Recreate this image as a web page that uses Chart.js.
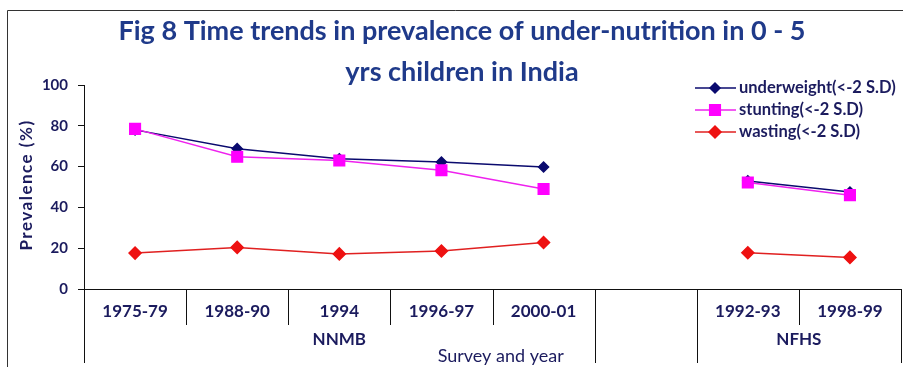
<!DOCTYPE html>
<html>
<head>
<meta charset="utf-8">
<script src="https://cdn.jsdelivr.net/npm/chart.js@4.4.1/dist/chart.umd.min.js"></script>
<style>
  html, body { margin: 0; padding: 0; background: #fff; }
  #wrap { width: 903px; height: 367px; position: relative; }
</style>
</head>
<body>
<div id="wrap"><canvas id="trendChart"></canvas></div>
<script>
// categories (the empty one is the gap between the two surveys)
const years = ["1975-79", "1988-90", "1994", "1996-97", "2000-01", "", "1992-93", "1998-99"];
const surveyNames = ["NNMB", "", "NFHS"];
const surveySpans = [5, 1, 2];

// prevalence (%)
const underweight = [78, 68.8, 63.8, 62.2, 59.8, null, 53, 47.5];
const stunting = [78.5, 64.8, 63, 58.2, 49, null, 52.2, 46];
const wasting = [17.6, 20.4, 17.2, 18.6, 22.8, null, 17.8, 15.5];

const titleLines = ["Fig 8 Time trends in prevalence of under-nutrition in 0 - 5", "yrs children in India"];
const yTicks = [0, 20, 40, 60, 80, 100];

const navy = "#1b1b5e";
const fontFam = "Lato, 'Open Sans', sans-serif";

const decor = {
  id: "decor",
  afterDraw(chart) {
    const ctx = chart.ctx;
    const xs = chart.scales.x;
    const area = chart.chartArea;
    ctx.save();

    // outer frame
    ctx.strokeStyle = "#333";
    ctx.lineWidth = 1;
    ctx.beginPath();
    ctx.moveTo(7.5, chart.height);
    ctx.lineTo(7.5, 10.5);
    ctx.lineTo(chart.width, 10.5);
    ctx.stroke();

    // title
    ctx.fillStyle = "#1f3a8a";
    ctx.font = "bold 27px " + fontFam;
    ctx.textAlign = "center";
    ctx.textBaseline = "middle";
    ctx.fillText(titleLines[0], 462, 31);
    ctx.fillText(titleLines[1], 462, 72);

    // y axis title, letter spaced like the original
    ctx.save();
    ctx.translate(27, (area.top + area.bottom) / 2 - 2);
    ctx.rotate(-Math.PI / 2);
    ctx.fillStyle = navy;
    ctx.font = "bold 17px " + fontFam;
    ctx.letterSpacing = "1.5px";
    ctx.fillText("Prevalence (%)", 0, 0);
    ctx.restore();

    // category separators below the axis
    const n = years.length;
    const edge = i => i === 0 ? xs.left : i === n ? xs.right :
      (xs.getPixelForTick(i - 1) + xs.getPixelForTick(i)) / 2;
    const longEdges = [0];
    let acc = 0;
    surveySpans.forEach(s => { acc += s; longEdges.push(acc); });
    ctx.strokeStyle = "#111";
    ctx.lineWidth = 1;
    for (let i = 0; i <= n; i++) {
      const x = Math.min(Math.round(edge(i)) + 0.5, chart.width - 1.5);
      ctx.beginPath();
      ctx.moveTo(x, area.bottom);
      ctx.lineTo(x, longEdges.includes(i) ? area.bottom + 74 : area.bottom + 36);
      ctx.stroke();
    }

    // survey group labels
    ctx.fillStyle = navy;
    ctx.font = "bold 17px " + fontFam;
    let start = 0;
    surveyNames.forEach((name, k) => {
      const end = start + surveySpans[k];
      if (name) ctx.fillText(name, (edge(start) + edge(end)) / 2, area.bottom + 51);
      start = end;
    });

    // x axis title
    ctx.font = "18px " + fontFam;
    ctx.fillText("Survey and year", xs.left + (xs.right - xs.left) * 0.51, area.bottom + 67);

    // legend
    ctx.textAlign = "left";
    ctx.font = "bold 16.5px " + fontFam;
    chart.data.datasets.forEach((ds, k) => {
      const y = 88 + k * 22;
      ctx.strokeStyle = ds.borderColor;
      ctx.lineWidth = 1.5;
      ctx.beginPath();
      ctx.moveTo(695, y);
      ctx.lineTo(736, y);
      ctx.stroke();
      ctx.fillStyle = ds.pointBackgroundColor;
      ctx.strokeStyle = ds.pointBorderColor;
      Chart.helpers.drawPoint(ctx, {
        pointStyle: ds.pointStyle, radius: ds.pointRadius, borderWidth: 1
      }, 715, y);
      ctx.fill();
      ctx.fillStyle = navy;
      ctx.fillText(ds.label, 739, y);
    });
    ctx.restore();
  }
};

new Chart(document.getElementById("trendChart"), {
  type: "line",
  data: {
    labels: years,
    datasets: [
      {
        label: "underweight(<-2 S.D)",
        data: underweight,
        borderColor: "#0a0a6e",
        backgroundColor: "#0a0a6e",
        pointBackgroundColor: "#0a0a6e",
        pointBorderColor: "#0a0a6e",
        pointStyle: "rectRot",
        pointRadius: 5,
        borderWidth: 1.5,
        order: 1
      },
      {
        label: "stunting(<-2 S.D)",
        data: stunting,
        borderColor: "#ee22ee",
        backgroundColor: "#ff00ff",
        pointBackgroundColor: "#ff00ff",
        pointBorderColor: "#ff00ff",
        pointStyle: "rect",
        pointRadius: 7.5,
        borderWidth: 1.5,
        order: 0
      },
      {
        label: "wasting(<-2 S.D)",
        data: wasting,
        borderColor: "#e02020",
        backgroundColor: "#ee1111",
        pointBackgroundColor: "#ee1111",
        pointBorderColor: "#ee1111",
        pointStyle: "rectRot",
        pointRadius: 6,
        borderWidth: 1.5,
        order: 2
      }
    ]
  },
  options: {
    responsive: true,
    maintainAspectRatio: false,
    animation: false,
    spanGaps: false,
    layout: { autoPadding: false, padding: { top: 85, right: 2, left: 0, bottom: 0 } },
    plugins: {
      legend: { display: false },
      title: { display: false },
      tooltip: { enabled: false }
    },
    scales: {
      x: {
        type: "category",
        offset: true,
        grid: { display: false },
        border: { display: true, color: "#111", width: 1 },
        ticks: {
          color: navy,
          padding: 4,
          autoSkip: false,
          maxRotation: 0,
          font: { family: fontFam, size: 17, weight: "bold" }
        },
        afterFit(scale) {
          scale.height = 78;
          scale.paddingLeft = 0;
          scale.paddingRight = 0;
        }
      },
      y: {
        min: 0,
        max: 100,
        afterBuildTicks(scale) { scale.ticks = yTicks.map(v => ({ value: v })); },
        grid: { drawOnChartArea: false, tickLength: 6, color: "#111" },
        border: { display: true, color: "#111", width: 1 },
        ticks: {
          color: navy,
          padding: 10,
          font: { family: fontFam, size: 15, weight: "bold" }
        },
        afterFit(scale) { scale.width = 84; }
      }
    }
  },
  plugins: [decor]
});
</script>
</body>
</html>
